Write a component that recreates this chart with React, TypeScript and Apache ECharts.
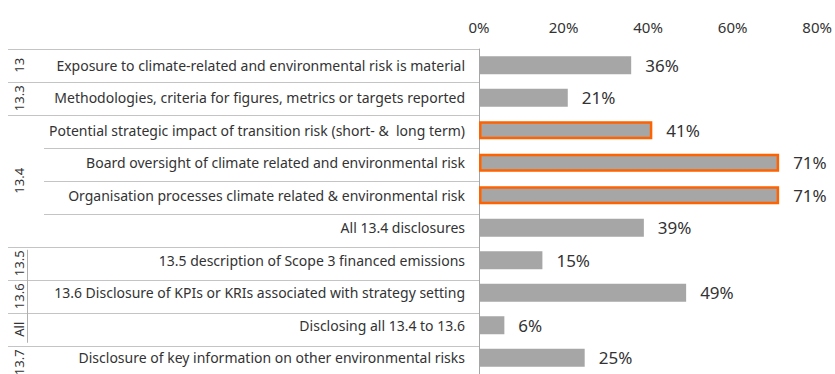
import React, { useEffect, useRef } from "react";
import * as echarts from "echarts";

// Disclosure categories, top to bottom
const categories: string[] = [
  "Exposure to climate-related and environmental risk is material",
  "Methodologies, criteria for figures, metrics or targets reported",
  "Potential strategic impact of transition risk (short- &  long term)",
  "Board oversight of climate related and environmental risk",
  "Organisation processes climate related & environmental risk",
  "All 13.4 disclosures",
  "13.5 description of Scope 3 financed emissions",
  "13.6 Disclosure of KPIs or KRIs associated with strategy setting",
  "Disclosing all 13.4 to 13.6",
  "Disclosure of key information on other environmental risks",
];

// Share of banks disclosing (%)
const values: number[] = [36, 21, 41, 71, 71, 39, 15, 49, 6, 25];

// Rows outlined in orange
const highlighted: number[] = [2, 3, 4];

// Section groups: label and number of rows covered
const groupLabels: string[] = ["13", "13.3", "13.4", "13.5", "13.6", "All", "13.7"];
const groupSpans: number[] = [1, 1, 4, 1, 1, 1, 1];

// Percentage axis ticks
const xTicks: number[] = [0, 20, 40, 60, 80];

const FONT = "'Noto Sans', sans-serif";
const TEXT = "#333333";
const GRID_LEFT = 479;
const GRID_TOP = 49;
const GRID_W = 339;
const GRID_H = 330;

export default function App() {
  const ref = useRef<HTMLDivElement>(null);

  useEffect(() => {
    if (!ref.current) return;
    const chart = echarts.init(ref.current, undefined, { renderer: "svg" });

    chart.setOption({
      animation: false,
      backgroundColor: "#ffffff",
      textStyle: { fontFamily: FONT },
      grid: { left: GRID_LEFT, top: GRID_TOP, width: GRID_W, height: GRID_H },
      xAxis: {
        type: "value",
        position: "top",
        min: xTicks[0],
        max: xTicks[xTicks.length - 1],
        interval: xTicks[1] - xTicks[0],
        axisLine: { show: false },
        axisTick: { show: false },
        splitLine: { show: false },
        axisLabel: {
          formatter: "{value}%",
          color: TEXT,
          fontSize: 15,
          fontFamily: FONT,
          margin: 15,
        },
      },
      yAxis: {
        type: "category",
        inverse: true,
        data: categories,
        axisLine: { show: true, lineStyle: { color: "#a6a6a6", width: 1 } },
        axisTick: { show: false },
        axisLabel: {
          color: TEXT,
          fontSize: 14,
          fontFamily: FONT,
          margin: 14,
        },
      },
      series: [
        {
          type: "bar",
          barWidth: 18,
          data: values.map((v, i) => ({
            value: v,
            itemStyle: highlighted.includes(i)
              ? { color: "#a6a6a6", borderColor: "#ff6200", borderWidth: 2.5 }
              : { color: "#a6a6a6" },
          })),
          label: {
            show: true,
            position: "right",
            distance: 14,
            formatter: "{c}%",
            color: TEXT,
            fontSize: 17,
            fontFamily: FONT,
          },
        },
      ],
    });

    // Table rules and section labels, placed from the category axis
    const rowY = (i: number) => chart.convertToPixel({ yAxisIndex: 0 }, i) as number;
    const band = GRID_H / categories.length;
    const boundary = (k: number) => rowY(0) - band / 2 + k * band;

    const groupStarts: number[] = [];
    let acc = 0;
    groupSpans.forEach((s) => {
      groupStarts.push(acc);
      acc += s;
    });

    const elements: any[] = [];
    for (let k = 0; k <= categories.length; k++) {
      const full = groupStarts.includes(k) || k === categories.length;
      const y = Math.round(boundary(k)) + 0.5;
      elements.push({
        type: "line",
        shape: { x1: full ? 8 : 44, y1: y, x2: GRID_LEFT, y2: y },
        style: { stroke: "#c4c4c4", lineWidth: 1.2 },
        z: 1,
      });
    }

    groupLabels.forEach((label, g) => {
      const start = groupStarts[g];
      const cy = (boundary(start) + boundary(start + groupSpans[g])) / 2;
      elements.push({
        type: "text",
        x: 19,
        y: cy,
        rotation: Math.PI / 2,
        style: {
          text: label,
          fill: TEXT,
          font: `13px ${FONT}`,
          align: "center",
          verticalAlign: "middle",
        },
        z: 2,
      });
    });

    // Short divider beside the single-row sections 13.5 to All
    elements.push({
      type: "line",
      shape: { x1: 27.5, y1: boundary(6) + 3, x2: 27.5, y2: boundary(9) - 3 },
      style: { stroke: "#b0b0b0", lineWidth: 1 },
      z: 1,
    });

    chart.setOption({ graphic: { elements } });

    return () => chart.dispose();
  }, []);

  return (
    <div
      ref={ref}
      style={{ position: "absolute", left: 0, top: 0, width: 835, height: 374 }}
    />
  );
}
